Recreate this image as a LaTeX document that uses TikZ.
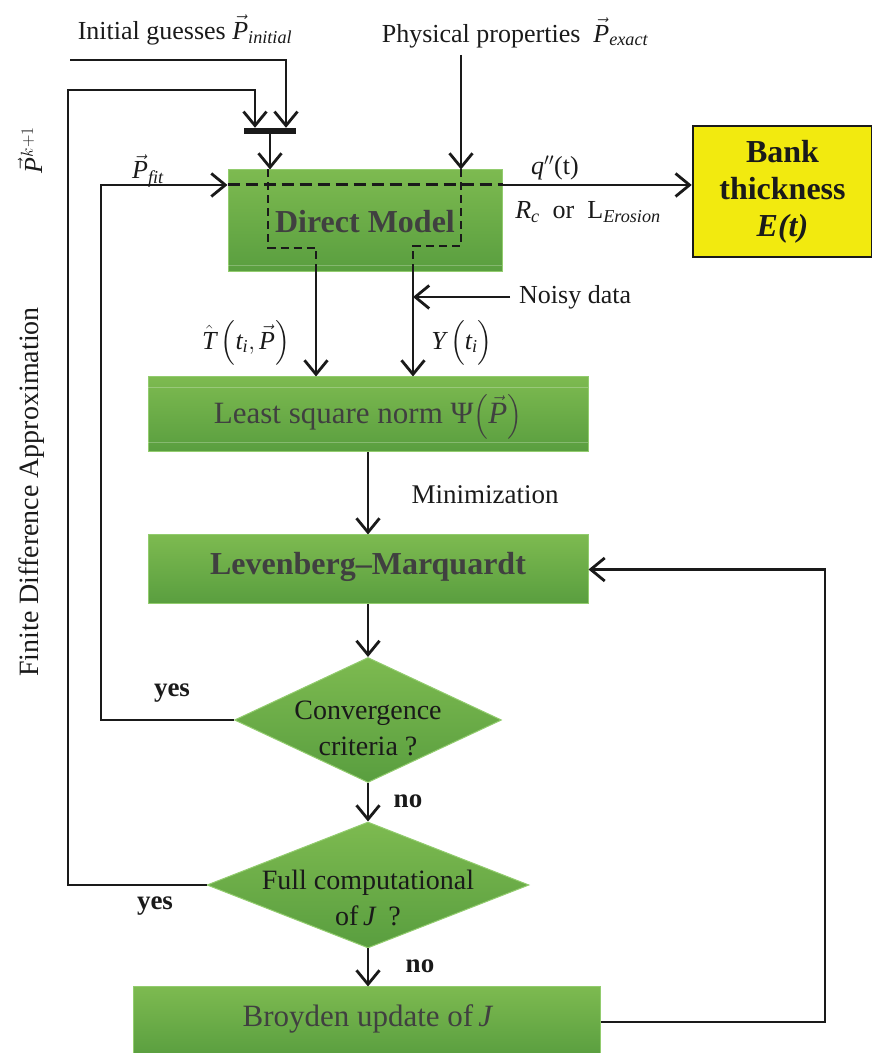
\documentclass[tikz,border=0pt]{standalone}
\usepackage{amsmath}
\usepackage{fontspec}
\setmainfont{Liberation Serif}
\usetikzlibrary{arrows.meta,shapes.geometric}

\newcommand\vP{\ensuremath{\vec{\textit{P}}}}

\definecolor{gtop}{HTML}{7DBA50}
\definecolor{gbot}{HTML}{599E3F}
\definecolor{gedge}{HTML}{92CC6E}
\definecolor{gtext}{HTML}{404040}
\definecolor{bankfill}{HTML}{F2EA0F}
\definecolor{ink}{HTML}{1A1A1A}

\begin{document}
\begin{tikzpicture}[x=1pt,y=1pt,
  wire/.style={draw=ink,line width=2.8pt},
  arr/.style={wire,-{Straight Barb[length=14pt,width=23pt,line width=2.8pt]}},
  dash1/.style={draw=ink,line width=3pt,dash pattern=on 12pt off 6pt},
  dash2/.style={draw=ink,line width=2pt,dash pattern=on 8pt off 5pt},
  gbox/.style={rectangle,draw=gedge,line width=1pt,top color=gtop,bottom color=gbot,inner sep=0pt},
  gdia/.style={diamond,draw=gedge,line width=1pt,top color=gtop,bottom color=gbot,inner sep=0pt},
  boxbold/.style={font=\fontsize{32}{36}\selectfont\bfseries,text=gtext},
  boxplain/.style={font=\fontsize{31}{36}\selectfont,text=gtext},
  lbl/.style={font=\fontsize{26}{30}\selectfont,text=ink,inner sep=0pt},
  dlbl/.style={font=\fontsize{28}{36}\selectfont,text=ink,align=center,inner sep=0pt},
  yn/.style={font=\fontsize{27}{30}\selectfont\bfseries,text=ink,inner sep=0pt},
]
\useasboundingbox (0,0) rectangle (872,1053);

% ---------- boxes ----------
\node[gbox,minimum width=274pt,minimum height=102pt] (dm) at (365,832) {};
\draw[white,opacity=0.25,line width=1pt] (dm.south west)++(0,7) -- ++(274,0);
\node[boxbold] at (365,831) {Direct Model};

\node[gbox,minimum width=440pt,minimum height=75pt] (ls) at (368,638.5) {};
\draw[white,opacity=0.25,line width=1pt] (ls.north west)++(0,-11) -- ++(440,0);
\draw[white,opacity=0.25,line width=1pt] (ls.south west)++(0,10) -- ++(440,0);
\node[boxplain] at (368,636) {Least square norm Ψ$\left(\vec{\textit{P}}\right)$};

\node[gbox,minimum width=440pt,minimum height=69pt] (lm) at (368,483.5) {};
\node[boxbold] at (368,486) {Levenberg--Marquardt};

\node[gdia,minimum width=267pt,minimum height=125pt] (cv) at (368,333) {};
\node[dlbl] at (368,325) {Convergence\\criteria ?};

\node[gdia,minimum width=322pt,minimum height=126pt] (fc) at (368,168) {};
\node[dlbl] at (368,155) {Full computational\\of\,\textit{J}\, ?};

\node[gbox,minimum width=467pt,minimum height=70pt] (by) at (366.5,31) {};
\node[boxplain] at (368,34) {Broyden update of\,\textit{J}};

\node[rectangle,draw=ink,line width=2.5pt,fill=bankfill,minimum width=179pt,minimum height=131pt,
      font=\fontsize{32}{37}\selectfont\bfseries,align=center,text=ink] (bank) at (782.5,861.5)
      {Bank\\thickness\\\textit{E(t)}};

% mixing bar for the two parameter inputs
\node[rectangle,fill=ink,minimum width=52pt,minimum height=6pt,inner sep=0pt] (mix) at (270,922) {};

% ---------- labels ----------
\node[lbl] (ini) at (185,1023) {Initial guesses \vP$_{\textit{initial}}$};
\node[lbl] (phy) at (515,1020) {Physical properties \ \vP$_{\textit{exact}}$};
\node[lbl] (pfit) at (148,882) {\vP$_{\textit{fit}}$};
\node[lbl] (qq) at (555,885) {$\textit{q}''$(t)};
\node[lbl] (rc) at (588,841) {\textit{R}$_{\textit{c}}$ \ or \ L$_{\textit{Erosion}}$};
\node[lbl] (that) at (246,710) {$\hat{\textit{T}}\left(\textit{t}_{\textit{i}},\vec{\textit{P}}\right)$};
\node[lbl] (yti) at (462,710) {$\textit{Y}\left(\textit{t}_{\textit{i}}\vphantom{\vec{\textit{P}}}\right)$};
\node[lbl,anchor=west] (noisy) at (519,756) {Noisy data};
\node[lbl,font=\fontsize{27}{30}\selectfont] (mini) at (485,558) {Minimization};
\node[yn] (yes1) at (172,360) {yes};
\node[yn] (no1) at (408,252) {no};
\node[yn] (yes2) at (155,147) {yes};
\node[yn] (no2) at (420,87) {no};
\node[lbl,rotate=90] (pk) at (30,903) {\vP$^{k+1}$};
\node[lbl,rotate=90,font=\fontsize{28}{30}\selectfont] (fda) at (32,561) {Finite Difference Approximation};

% ---------- connector anchors ----------
\coordinate (iniL) at (70,993);
\coordinate (iniR) at (286,993);
\coordinate (loopT) at (255,963);
\coordinate (phyS) at (461,998);
\coordinate (din) at (dm.west |- 0,868);
\coordinate (dout) at (dm.east |- 0,868);
\coordinate (tapL) at (268,805);
\coordinate (tapR) at (461,807);
\coordinate (outL) at (316,0 |- dm.south);
\coordinate (outR) at (413,0 |- dm.south);
\coordinate (noisyS) at (510,756);

% ---------- connectors ----------
% parameter inputs into the mixing bar
\draw[arr] (iniL) -- (iniR) -- (iniR |- mix.north);
\draw[arr] (fc.west) -- (68,168) |- (loopT) -- (loopT |- mix.north);
\draw[arr] (mix.south) -- (mix.south |- dm.north);
\draw[arr] (phyS) -- (phyS |- dm.north);

% fitted parameters back into the direct model
\draw[arr] (cv.west) -- (101,333) |- (din);

% paths through the direct model
\draw[dash1] (din) -- (dout);
\draw[dash2] (268,0 |- dm.north) -- (tapL) -| (outL);
\draw[dash2] (461,0 |- dm.north) -- (tapR) -| (outR);
\draw[arr] (dout) -- (bank.west |- dout);

% model output and data into the norm
\draw[arr] (outL) -- (outL |- ls.north);
\draw[arr] (outR) -- (outR |- ls.north);
\draw[arr] (noisyS) -- (outR |- noisyS);

% main chain
\draw[arr] (ls.south) -- (ls.south |- lm.north);
\draw[arr] (lm.south) -- (cv.north);
\draw[arr] (cv.south) -- (fc.north);
\draw[arr] (fc.south) -- (fc.south |- by.north);
\draw[arr] (by.east) -- (825,0 |- by.east) |- (lm.east);
\end{tikzpicture}
\end{document}
